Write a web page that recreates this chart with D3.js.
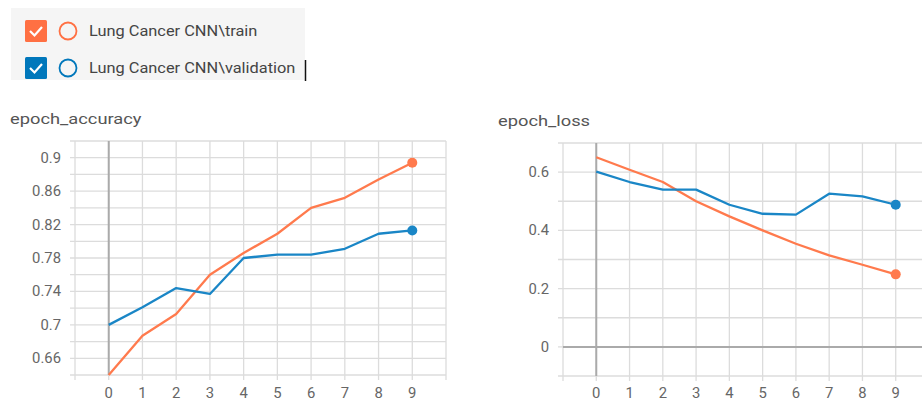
<!DOCTYPE html>
<html>
<head>
<meta charset="utf-8">
<script src="https://cdn.jsdelivr.net/npm/d3@7"></script>
<style>
  body { margin: 0; background: #fff; font-family: Roboto, "Open Sans", sans-serif; }
  .title { fill: #555; font-size: 15px; }
  .tick-label { fill: #666; font-size: 14px; }
  .legend-text { fill: #444; font-size: 14px; }
</style>
</head>
<body>
<div id="chart"></div>
<script>
// DATA
var epochs = [0, 1, 2, 3, 4, 5, 6, 7, 8, 9]
var runs = ['Lung Cancer CNN\\train', 'Lung Cancer CNN\\validation']
var accTrain = [0.640, 0.687, 0.713, 0.760, 0.786, 0.809, 0.840, 0.852, 0.874, 0.894]
var accVal   = [0.700, 0.721, 0.744, 0.737, 0.780, 0.784, 0.784, 0.791, 0.809, 0.813]
var lossTrain = [0.651, 0.608, 0.566, 0.500, 0.448, 0.400, 0.354, 0.314, 0.282, 0.249]
var lossVal   = [0.602, 0.566, 0.540, 0.540, 0.488, 0.457, 0.454, 0.526, 0.517, 0.488]
var accTicks  = [0.66, 0.7, 0.74, 0.78, 0.82, 0.86, 0.9]
var lossTicks = [0, 0.2, 0.4, 0.6]

const COLORS = ['#ff7043', '#0077bb']
const LINE_COLORS = ['#ff7a4d', '#1a86c6']
// the screenshot text is a bit wider than Roboto
const STRETCH = { TITLE: 1.22, LEGEND: 1.17, TICK: 1.06 }

const W = 922, H = 403
const svg = d3.select('#chart').append('svg')
  .attr('width', W).attr('height', H)

// place text at x,y with horizontal stretch
function stretched(sel, x, y, sx) {
  return sel.attr('transform', `translate(${x},${y}) scale(${sx},1)`)
}

// LEGEND
const legend = svg.append('g')
legend.append('rect').attr('x', 11).attr('y', 8).attr('width', 294).attr('height', 72).attr('fill', '#f5f5f5')
runs.forEach((r, i) => {
  const cy = 31 + i * 37
  const g = legend.append('g').attr('transform', `translate(0, ${cy})`)
  g.append('rect').attr('x', 25).attr('y', -11).attr('width', 22).attr('height', 22).attr('rx', 1.5).attr('fill', COLORS[i])
  g.append('path').attr('d', 'M30,0 L34.5,4.5 L42,-4').attr('stroke', '#fff').attr('stroke-width', 2.2).attr('fill', 'none')
  g.append('circle').attr('cx', 68).attr('cy', 0).attr('r', 8.5).attr('fill', 'none').attr('stroke', COLORS[i]).attr('stroke-width', 1.8)
  stretched(g.append('text').attr('class', 'legend-text').text(r), 89, 5, STRETCH.LEGEND)
})
// text cursor
svg.append('line').attr('x1', 305.5).attr('x2', 305.5).attr('y1', 60).attr('y2', 81).attr('stroke', '#111').attr('stroke-width', 1.5)

function drawChart(opts) {
  const g = svg.append('g')
  const x = d3.scaleLinear().domain([-1, 10]).range([opts.left, opts.right])
  const y = d3.scaleLinear().domain(opts.yDomain).range([opts.bottom, opts.top])

  stretched(g.append('text').attr('class', 'title').text(opts.title), opts.titleX, opts.titleY, STRETCH.TITLE)

  // grid
  const hLines = d3.range(opts.yDomain[0], opts.yDomain[1] + 1e-9, opts.yStep)
  g.selectAll('.hgrid').data(hLines).join('line')
    .attr('x1', opts.left - 5).attr('x2', opts.right)
    .attr('y1', d => y(d)).attr('y2', d => y(d))
    .attr('stroke', '#dcdcdc').attr('stroke-width', 1.3)
  g.selectAll('.vgrid').data(d3.range(-1, 11)).join('line')
    .attr('x1', d => x(d)).attr('x2', d => x(d))
    .attr('y1', opts.top).attr('y2', opts.bottom + 5)
    .attr('stroke', '#dcdcdc').attr('stroke-width', 1.3)

  // axes at zero
  g.append('line').attr('x1', x(0)).attr('x2', x(0)).attr('y1', opts.top).attr('y2', opts.bottom)
    .attr('stroke', '#aaa').attr('stroke-width', 2)
  if (opts.yDomain[0] < 0) {
    g.append('line').attr('x1', opts.left).attr('x2', opts.right).attr('y1', y(0)).attr('y2', y(0))
      .attr('stroke', '#aaa').attr('stroke-width', 2)
  }

  // tick labels
  g.selectAll('.ylab').data(opts.yTicks).join('text')
    .attr('class', 'tick-label').attr('text-anchor', 'end')
    .attr('transform', d => `translate(${opts.left - 14},${y(d) + 5}) scale(${STRETCH.TICK},1)`)
    .text(d => d3.format('~g')(d))
  g.selectAll('.xlab').data(epochs).join('text')
    .attr('class', 'tick-label').attr('text-anchor', 'middle')
    .attr('transform', d => `translate(${x(d)},${opts.bottom + 23 - (opts.bottom - 375)}) scale(${STRETCH.TICK},1)`)
    .text(d => d)

  const line = d3.line().x((d, i) => x(epochs[i])).y(d => y(d))
  opts.series.forEach((s, i) => {
    g.append('path').attr('d', line(s)).attr('fill', 'none')
      .attr('stroke', LINE_COLORS[i]).attr('stroke-width', 2.3)
      .attr('stroke-linejoin', 'round')
  })
  opts.series.forEach((s, i) => {
    g.append('circle').attr('cx', x(epochs[9])).attr('cy', y(s[9])).attr('r', 5).attr('fill', LINE_COLORS[i])
  })
}

drawChart({ title: 'epoch_accuracy', titleX: 10, titleY: 124,
  left: 75, right: 446, top: 141, bottom: 375,
  yDomain: [0.64, 0.92], yStep: 0.02, yTicks: accTicks,
  series: [accTrain, accVal] })

drawChart({ title: 'epoch_loss', titleX: 498, titleY: 126,
  left: 563, right: 929, top: 143, bottom: 376,
  yDomain: [-0.1, 0.7], yStep: 0.1, yTicks: lossTicks,
  series: [lossTrain, lossVal] })
</script>
</body>
</html>
